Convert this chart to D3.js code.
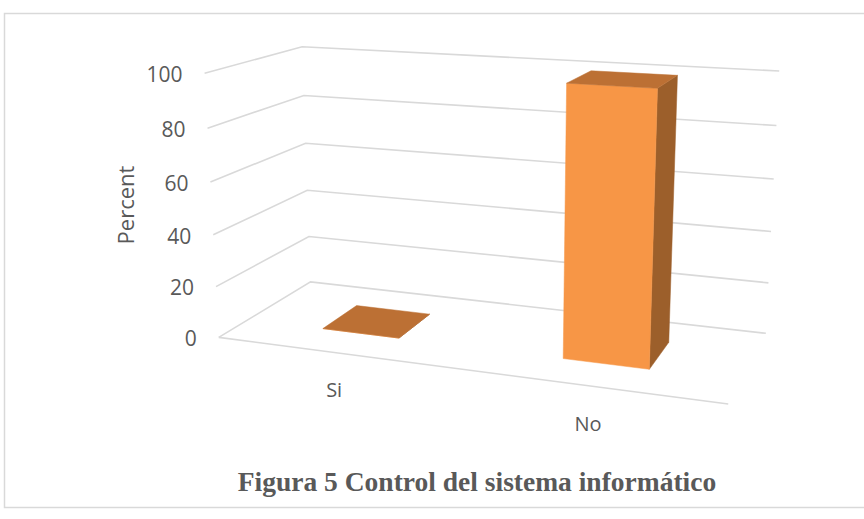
<!DOCTYPE html>
<html>
<head>
<meta charset="utf-8">
<script src="https://cdn.jsdelivr.net/npm/d3@7"></script>
<style>
  html, body { margin: 0; padding: 0; background: #fff; }
  svg { display: block; }
</style>
</head>
<body>
<svg id="chart" width="864" height="519"></svg>
<script>
// Data
const categories = ["Si", "No"];
const percent = [0, 100];
const tickValues = [0, 20, 40, 60, 80, 100];
const axisTitle = "Percent";
const caption = "Figura 5 Control del sistema informático";

const W = 864, H = 519;
const svg = d3.select("#chart");

// World space: x = category axis (0..1), y = value (0..1), z = depth (0 front .. 1 back)
const x = d3.scaleBand().domain(categories).range([0, 1]).paddingInner(0.67).paddingOuter(0.335);
const y = d3.scaleLinear().domain([0, 100]).range([0, 1]);
const barDepth = [0.3, 0.7];

// Screen position of the plot box corners, used to fit a perspective camera
const boxCorners = [
  { w: [0, 0, 0], p: [218.3, 337.3] },
  { w: [1, 0, 0], p: [728.3, 404.0] },
  { w: [0, 0, 1], p: [311.0, 282.0] },
  { w: [1, 0, 1], p: [765.7, 333.3] },
  { w: [0, 1, 0], p: [205.0, 73.3] },
  { w: [0, 1, 1], p: [301.7, 46.7] },
  { w: [1, 1, 1], p: [779.3, 71.0] }
];

// Least-squares fit of a 3x4 projection matrix (last entry fixed at 1)
function fitCamera(pts) {
  const n = 11;
  const M = Array.from({ length: n }, () => new Array(n + 1).fill(0));
  const add = (r, b) => {
    for (let i = 0; i < n; i++) {
      for (let j = 0; j < n; j++) M[i][j] += r[i] * r[j];
      M[i][n] += r[i] * b;
    }
  };
  pts.forEach(({ w: [X, Y, Z], p: [u, v] }) => {
    add([X, Y, Z, 1, 0, 0, 0, 0, -u * X, -u * Y, -u * Z], u);
    add([0, 0, 0, 0, X, Y, Z, 1, -v * X, -v * Y, -v * Z], v);
  });
  for (let c = 0; c < n; c++) {
    let piv = c;
    for (let r = c + 1; r < n; r++) if (Math.abs(M[r][c]) > Math.abs(M[piv][c])) piv = r;
    [M[c], M[piv]] = [M[piv], M[c]];
    for (let r = 0; r < n; r++) {
      if (r === c) continue;
      const f = M[r][c] / M[c][c];
      for (let k = c; k <= n; k++) M[r][k] -= f * M[c][k];
    }
  }
  return M.map((row, i) => row[n] / row[i]);
}
const h = fitCamera(boxCorners);
function project([X, Y, Z]) {
  const d = h[8] * X + h[9] * Y + h[10] * Z + 1;
  return [(h[0] * X + h[1] * Y + h[2] * Z + h[3]) / d,
          (h[4] * X + h[5] * Y + h[6] * Z + h[7]) / d];
}
const path = d3.line();
const poly = pts => path(pts.map(project)) + "Z";

// Chart frame
svg.append("rect")
  .attr("x", 4.5).attr("y", 13.5)
  .attr("width", 862).attr("height", 494)
  .attr("fill", "#fff").attr("stroke", "#d9d9d9").attr("stroke-width", 1.5);

// Gridlines on the side and back walls
const grid = svg.append("g").attr("fill", "none").attr("stroke", "#d9d9d9").attr("stroke-width", 1.6);
tickValues.forEach(t => {
  grid.append("path").attr("d", path([[0, y(t), 0], [0, y(t), 1], [1, y(t), 1]].map(project)));
});
// Front edge of the floor
grid.append("path").attr("d", path([[0, 0, 0], [1, 0, 0]].map(project)));

// Value axis labels
const textColor = "#595959";
const labelFont = "'Open Sans', 'Liberation Sans', sans-serif";
tickValues.forEach(t => {
  const [px, py] = project([0, y(t), 0]);
  svg.append("text")
    .attr("x", px - 22).attr("y", py + 1.5).attr("dy", "0.35em")
    .attr("text-anchor", "end")
    .attr("font-family", labelFont).attr("font-size", 21).attr("fill", textColor)
    .text(t);
});

// Axis title
svg.append("text")
  .attr("transform", "translate(126,205) rotate(-90)")
  .attr("dy", "0.35em").attr("text-anchor", "middle")
  .attr("font-family", labelFont).attr("font-size", 22).attr("fill", textColor)
  .text(axisTitle);

// Bars as boxes: right side, top and front faces
const colors = { front: "#f79646", side: "#9c5f2b", top: "#bc7034" };
const bars = svg.append("g");
categories.forEach((c, i) => {
  const x0 = x(c), x1 = x0 + x.bandwidth();
  const [z0, z1] = barDepth;
  const top = y(percent[i]);
  const faces = [
    { d: [[x1, 0, z0], [x1, 0, z1], [x1, top, z1], [x1, top, z0]], fill: colors.side },
    { d: [[x0, 0, z0], [x1, 0, z0], [x1, top, z0], [x0, top, z0]], fill: colors.front },
    { d: [[x0, top, z0], [x1, top, z0], [x1, top, z1], [x0, top, z1]], fill: colors.top }
  ];
  faces.forEach(f => {
    bars.append("path").attr("d", poly(f.d))
      .attr("fill", f.fill).attr("stroke", f.fill).attr("stroke-width", 0.5)
      .attr("stroke-linejoin", "round");
  });
});

// Category labels below the floor
categories.forEach(c => {
  const [px, py] = project([x(c) + x.bandwidth() / 2, 0, 0]);
  svg.append("text")
    .attr("x", px).attr("y", py + 38).attr("dy", "0.35em")
    .attr("text-anchor", "middle")
    .attr("font-family", labelFont).attr("font-size", 20).attr("fill", textColor)
    .text(c);
});

// Caption
svg.append("text")
  .attr("x", 477).attr("y", 491)
  .attr("text-anchor", "middle")
  .attr("font-family", "'Liberation Serif', 'Times New Roman', serif")
  .attr("font-weight", "bold").attr("font-size", 27.5).attr("fill", textColor)
  .text(caption);
</script>
</body>
</html>
